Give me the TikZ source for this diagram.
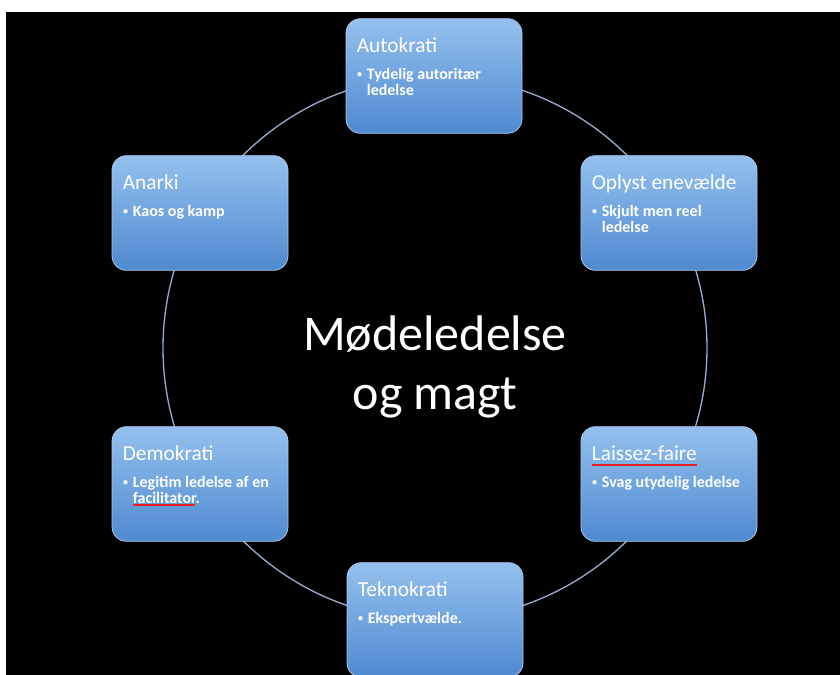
\documentclass[tikz,border=0pt]{standalone}
\usepackage{fontspec}
\setmainfont{Carlito}
\definecolor{boxtop}{RGB}{148,192,238}
\definecolor{boxbottom}{RGB}{78,138,208}
\definecolor{boxline}{RGB}{170,200,238}
\definecolor{ringline}{RGB}{150,172,202}
\definecolor{squigred}{RGB}{240,30,30}
\usetikzlibrary{positioning}

\newcommand{\itemdot}{\llap{\raisebox{1.6pt}{\fontsize{7.5}{7.5}\selectfont\textbullet}\hspace{3.5pt}}}

\begin{document}
\begin{tikzpicture}[x=0.75pt, y=-0.75pt,
    box/.style={rounded corners=11pt, draw=boxline, line width=0.6pt, top color=boxtop, bottom color=boxbottom, minimum width=132pt, minimum height=86pt, inner sep=0pt},
    head/.style={text=white, font=\fontsize{16}{19}\selectfont, inner sep=0pt, anchor=base west},
    item/.style={text=white, font=\bfseries\fontsize{12}{12}\selectfont, inner sep=0pt, anchor=north west, align=left},
    squig/.style={draw=squigred, line width=1.3pt}]
    \useasboundingbox (0,0) rectangle (840,675);
    \fill[white] (0,0) rectangle (840,675);
    \fill[black] (6,12) rectangle (840,675);

    \coordinate (hub) at (435,348);
    \draw[ringline, line width=1pt] (hub) circle (272);
    \node[text=white, font=\fontsize{37.5}{44}\selectfont, align=center] (topic) at (435,367) {Mødeledelse\\og magt};

    \node[box] (auto) at (434,76) {};
    \node[box] (oplyst) at (669,213) {};
    \node[box] (laissez) at (669,484) {};
    \node[box] (tekno) at (435,620) {};
    \node[box] (demo) at (200,484) {};
    \node[box] (anarki) at (200,213) {};

    \node[head] (autoh) at ([shift={(11,34)}]auto.north west) {Autokrati};
    \node[item] (autoi) at ([shift={(21,50)}]auto.north west) {\itemdot Tydelig autoritær\\ledelse};
    \node[head] (oplysth) at ([shift={(11,34)}]oplyst.north west) {Oplyst enevælde};
    \node[item] (oplysti) at ([shift={(21,50)}]oplyst.north west) {\itemdot Skjult men reel\\ledelse};
    \node[head] (laissezh) at ([shift={(11,34)}]laissez.north west) {Laissez-faire};
    \node[item] (laissezi) at ([shift={(21,50)}]laissez.north west) {\itemdot Svag utydelig ledelse};
    \node[head] (teknoh) at ([shift={(11,34)}]tekno.north west) {Teknokrati};
    \node[item] (teknoi) at ([shift={(21,50)}]tekno.north west) {\itemdot Ekspertvælde.};
    \node[head] (demoh) at ([shift={(11,34)}]demo.north west) {Demokrati};
    \node[item] (demoi) at ([shift={(21,50)}]demo.north west) {\itemdot Legitim ledelse af en\\facilitator.};
    \node[head] (anarkih) at ([shift={(11,34)}]anarki.north west) {Anarki};
    \node[item] (anarkii) at ([shift={(21,50)}]anarki.north west) {\itemdot Kaos og kamp};

    \draw[squig] ([shift={(0,5)}]laissezh.base west) -- ([shift={(0,5)}]laissezh.base east);
    \draw[squig] ([shift={(0,1)}]demoi.south west) -- ++(62,0);
\end{tikzpicture}
\end{document}
